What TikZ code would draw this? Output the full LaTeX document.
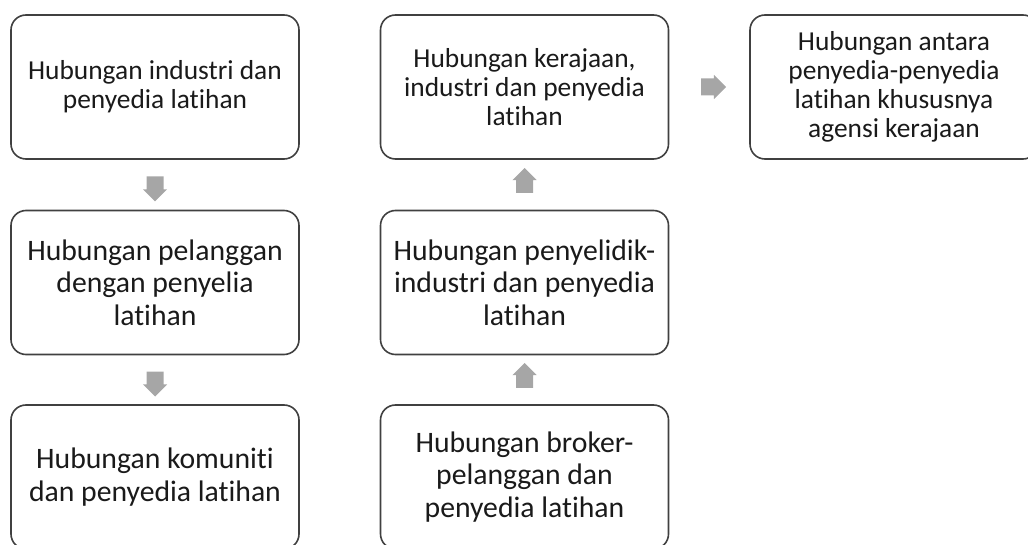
\documentclass[tikz,border=0pt]{standalone}
\usepackage{fontspec}
\setmainfont{Carlito}[Ligatures={NoCommon,NoRequired,NoContextual}]
\usetikzlibrary{shapes.arrows,calc}
\definecolor{boxline}{HTML}{404040}
\definecolor{arrowgray}{HTML}{A6A6A6}
\definecolor{textcol}{HTML}{1A1A1A}
\begin{document}
\begin{tikzpicture}[x=1pt,y=1pt,
  box/.style={draw=boxline, line width=1.6pt, rounded corners=15pt, fill=white,
    minimum width=288pt, minimum height=144pt, inner sep=0pt, align=center,
    text=textcol, font=\fontsize{27.4}{29}\selectfont},
  big/.style={font=\fontsize{29.7}{32.5}\selectfont},
  flow/.style={single arrow, fill=arrowgray, draw=none,
    minimum height=25pt, single arrow head extend=3.7pt, single arrow tip angle=90,
    single arrow head indent=0pt, inner xsep=0pt, inner ysep=8.3pt, anchor=center}]
\useasboundingbox (0,0) rectangle (1028,544);
\clip (0,0) rectangle (1028,544);
% column 1
\node[box] (b1) at (155,457) {Hubungan industri dan\\penyedia latihan};
\node[box,big] (b2) at (155,261.5) {Hubungan pelanggan\\dengan penyelia\\latihan};
\node[box,big] (b3) at (155,67) {Hubungan komuniti\\dan penyedia latihan};
% column 2
\node[box,big] (b4) at (524.5,67) {Hubungan broker-\\pelanggan dan\\penyedia latihan};
\node[box,big] (b5) at (524.5,261.5) {Hubungan penyelidik-\\industri dan penyedia\\latihan};
\node[box] (b6) at (524.5,457) {Hubungan kerajaan,\\industri dan penyedia\\latihan};
% column 3
\node[box] (b7) at (894,457) {Hubungan antara\\penyedia-penyedia\\latihan khususnya\\agensi kerajaan};
% arrows
\node[flow, rotate=-90] (a12) at ($(b1.south)!0.5!(b2.north)$) {};
\node[flow, rotate=-90] (a23) at ($(b2.south)!0.5!(b3.north)$) {};
\node[flow, rotate=90] (a45) at ($(b4.north)!0.5!(b5.south)$) {};
\node[flow, rotate=90] (a56) at ($(b5.north)!0.5!(b6.south)$) {};
\node[flow] (a67) at ($(b6.east)!0.5!(b7.west)$) {};
\end{tikzpicture}
\end{document}
